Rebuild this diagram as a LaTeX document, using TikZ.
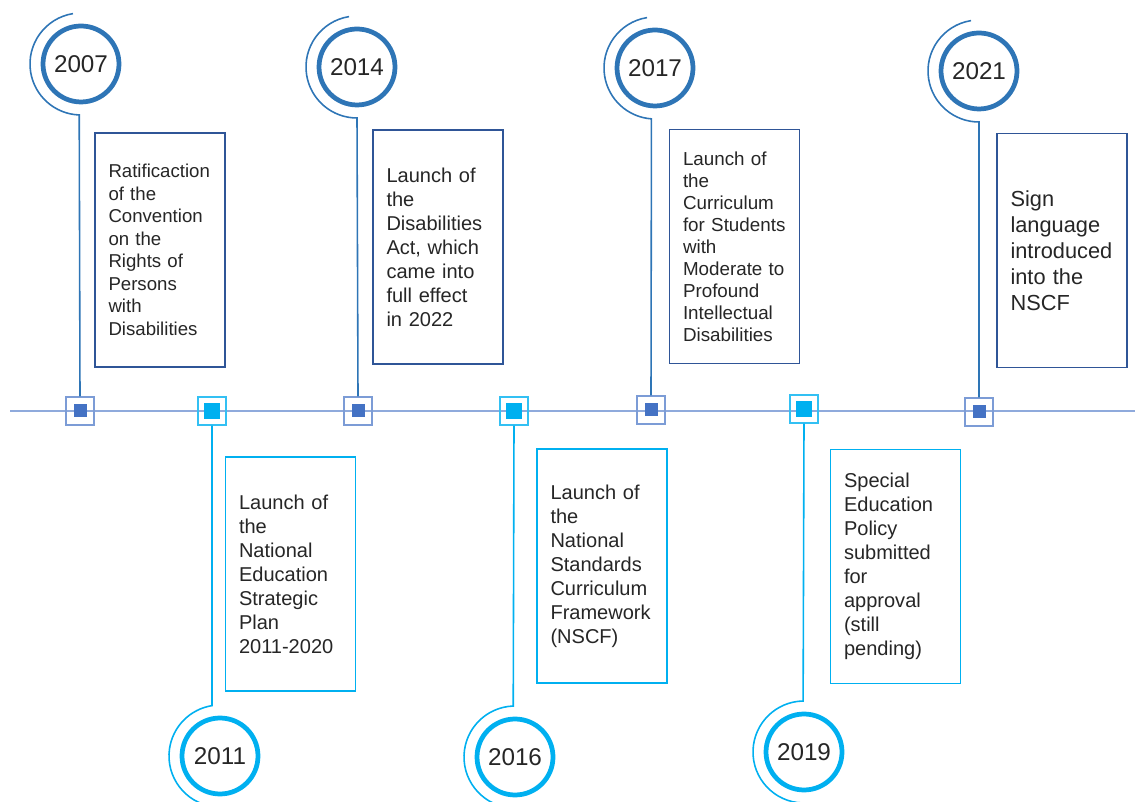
\documentclass[tikz,border=0pt]{standalone}
\usepackage{fontspec}
\setmainfont{Liberation Sans}
\usetikzlibrary{positioning}
\definecolor{ringdark}{HTML}{2E75B6}
\definecolor{arcdark}{HTML}{4472C4}
\definecolor{ringcyan}{HTML}{00B0F0}
\definecolor{boxdark}{HTML}{2F5597}
\definecolor{axisblue}{HTML}{8FAADC}
\definecolor{txt}{HTML}{262626}
\newcommand{\Fs}[2]{\fontsize{#1}{#2}\selectfont}

\begin{document}
\begin{tikzpicture}[x=0.02cm, y=0.02cm,
                    yearTop/.style={circle, draw=ringdark, line width=2.7pt, fill=white,
                        minimum size=1.52cm, inner sep=0pt, text=txt, font=\Fs{13.8}{16}},
                    yearBot/.style={yearTop, draw=ringcyan},
                    conTop/.style={draw=ringdark, line width=0.9pt},
                    conBot/.style={draw=ringcyan, line width=0.9pt},
                    stopTop/.style={draw=arcdark!70, line width=0.7pt,
                        minimum size=0.56cm, inner sep=0pt,
                        path picture={\fill[arcdark] ([shift={(-0.13cm,-0.13cm)}]path picture bounding box.center)
                            rectangle ([shift={(0.13cm,0.13cm)}]path picture bounding box.center);}},
                    stopBot/.style={stopTop, draw=ringcyan!80,
                        path picture={\fill[ringcyan] ([shift={(-0.16cm,-0.16cm)}]path picture bounding box.center)
                            rectangle ([shift={(0.16cm,0.16cm)}]path picture bounding box.center);}},
                    boxTop/.style={draw=boxdark, line width=1.1pt, fill=white, text=txt,
                        text width=2.06cm, inner xsep=0.27cm, minimum height=4.68cm, align=left},
                    boxBot/.style={boxTop, draw=ringcyan}]

                \useasboundingbox (0,0) rectangle (1135,801);

                \coordinate (axisL) at (10,390);
                \coordinate (axisR) at (1135,390);
                \draw[axisblue, line width=0.9pt] (axisL) -- (axisR);

                \draw(80,390) node[stopTop] (m07) {};
                \draw(212,390) node[stopBot] (m11) {};
                \draw(358,390) node[stopTop] (m14) {};
                \draw(514,390) node[stopBot] (m16) {};
                \draw(651,391) node[stopTop] (m17) {};
                \draw(804,392) node[stopBot] (m19) {};
                \draw(979,389) node[stopTop] (m21) {};

                \draw(81,737) node[yearTop] (c07) {2007};
                \draw(220,45) node[yearBot] (c11) {2011};
                \draw(357,734) node[yearTop] (c14) {2014};
                \draw(515,44) node[yearBot] (c16) {2016};
                \draw(655,733) node[yearTop] (c17) {2017};
                \draw(804,49) node[yearBot] (c19) {2019};
                \draw(979,730) node[yearTop] (c21) {2021};

                \draw[conTop] (c07.center) ++(99:51) arc[start angle=99, end angle=268, radius=51] -- (m07.north);
                \draw[conTop] (c14.center) ++(99:51) arc[start angle=99, end angle=270, radius=51] -- (m14.north);
                \draw[conTop] (c17.center) ++(99:51) arc[start angle=99, end angle=266, radius=51] -- (m17.north);
                \draw[conTop] (c21.center) ++(99:51) arc[start angle=99, end angle=270, radius=51] -- (m21.north);
                \draw[conBot] (c11.center) ++(262:51) arc[start angle=262, end angle=99, radius=51] -- (m11.south);
                \draw[conBot] (c16.center) ++(268:51) arc[start angle=268, end angle=92, radius=51] -- (m16.south);
                \draw[conBot] (c19.center) ++(268:51) arc[start angle=268, end angle=91, radius=51] -- (m19.south);

                \draw(160,551) node[boxTop, font=\Fs{10.6}{12.8}] (b07)
                {Ratificaction\\of the\\Convention\\on the\\Rights of\\Persons\\with\\Disabilities};
                \draw(438,554) node[boxTop, font=\Fs{11.4}{13.65}] (b14)
                {Launch of\\the\\Disabilities\\Act, which\\came into\\full effect\\in 2022};
                \draw(734.5,554.5) node[boxTop, font=\Fs{10.7}{12.5}] (b17)
                {Launch of\\the\\Curriculum\\for Students\\with\\Moderate to\\Profound\\Intellectual\\Disabilities};
                \draw(1062,550.5) node[boxTop, font=\Fs{12.4}{14.8}] (b21)
                {Sign\\language\\introduced\\into the\\NSCF};
                \draw(290.5,227) node[boxBot, font=\Fs{11.4}{13.65}] (b11)
                {Launch of\\the\\National\\Education\\Strategic\\Plan\\2011-2020};
                \draw(602,235) node[boxBot, font=\Fs{11.4}{13.65}] (b16)
                {Launch of\\the\\National\\Standards\\Curriculum\\Framework\\(NSCF)};
                \draw(895.5,234.5) node[boxBot, font=\Fs{11.4}{13.65}] (b19)
                {Special\\Education\\Policy\\submitted\\for\\approval\\(still\\pending)};

            \end{tikzpicture}
\end{document}
